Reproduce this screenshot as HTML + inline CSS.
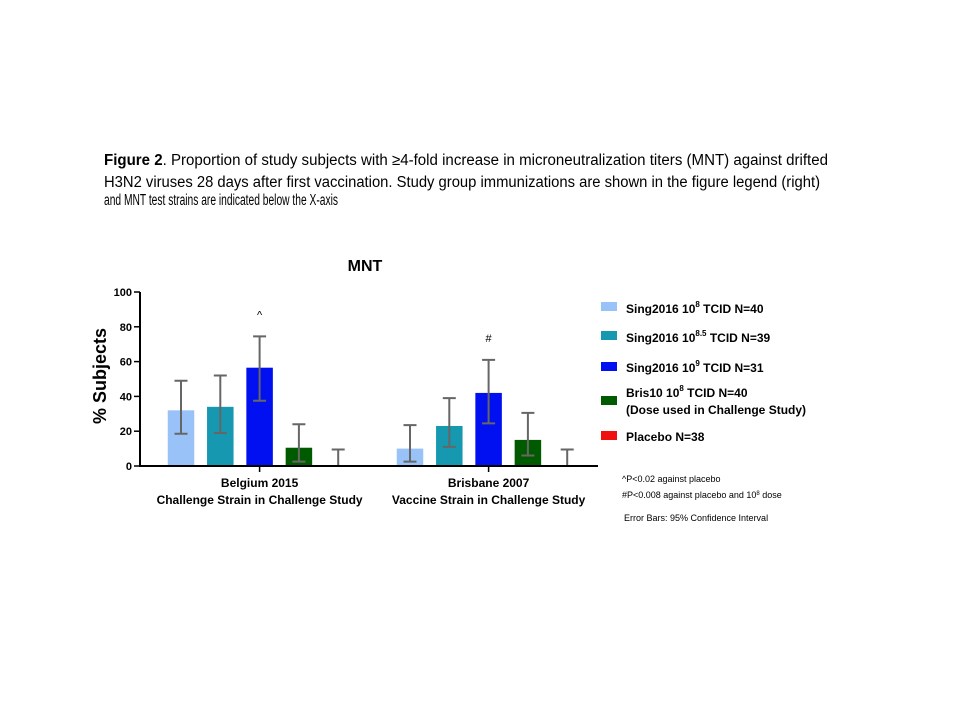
<!DOCTYPE html>
<html><head><meta charset="utf-8"><style>
html,body{margin:0;padding:0;background:#fff;}
svg{display:block;font-family:"Liberation Sans",sans-serif;}
</style></head><body>
<svg id="chart" width="960" height="720" viewBox="0 0 960 720">
<g font-size="15.5" fill="#000">
<text x="104" y="165" textLength="724" lengthAdjust="spacingAndGlyphs"><tspan font-weight="bold">Figure 2</tspan>. Proportion  of study subjects with ≥4-fold increase in microneutralization titers (MNT) against drifted</text>
<text x="104" y="187" textLength="716" lengthAdjust="spacingAndGlyphs">H3N2 viruses 28 days after first vaccination.  Study group immunizations are shown in the figure legend (right)</text>
<text x="104" y="205" textLength="234" lengthAdjust="spacingAndGlyphs">and MNT test strains are indicated below the X-axis</text>
</g>
<text x="365" y="271" font-size="16" font-weight="bold" text-anchor="middle">MNT</text>
<text transform="translate(106,376) rotate(-90)" font-size="18" font-weight="bold" text-anchor="middle">% Subjects</text>
<g id="plot"></g>
<g font-size="12" font-weight="bold">
<rect x="601" y="302" width="16" height="9" fill="#99c3f8"/>
<text x="626" y="313">Sing2016 10<tspan font-size="8" dy="-6">8</tspan><tspan dy="6"> TCID N=40</tspan></text>
<rect x="601" y="331" width="16" height="9" fill="#1598b0"/>
<text x="626" y="342">Sing2016 10<tspan font-size="8" dy="-6">8.5</tspan><tspan dy="6"> TCID N=39</tspan></text>
<rect x="601" y="362" width="16" height="9" fill="#0010f0"/>
<text x="626" y="372">Sing2016 10<tspan font-size="8" dy="-6">9</tspan><tspan dy="6"> TCID N=31</tspan></text>
<rect x="601" y="396" width="16" height="9" fill="#005a00"/>
<text x="626" y="397">Bris10 10<tspan font-size="8" dy="-6">8</tspan><tspan dy="6"> TCID N=40</tspan></text>
<text x="626" y="414">(Dose used in Challenge Study)</text>
<rect x="601" y="431" width="16" height="9" fill="#f01010"/>
<text x="626" y="441">Placebo N=38</text>
</g>
<g font-size="9" fill="#000">
<text x="622" y="482">^P&lt;0.02 against placebo</text>
<text x="622" y="498">#P&lt;0.008 against placebo and 10<tspan font-size="6" dy="-3">8</tspan><tspan dy="3"> dose</tspan></text>
<text x="624" y="521">Error Bars: 95% Confidence Interval</text>
</g>
</svg>
<script>
const groups = ["Belgium 2015", "Brisbane 2007"];
const subLabels = ["Challenge Strain in Challenge Study", "Vaccine Strain in Challenge Study"];
const series = ["sing-1e8", "sing-1e85", "sing-1e9", "bris10", "placebo"];
const colors = ["#99c3f8", "#1598b0", "#0010f0", "#005a00", "#f01010"];
const valuesBelgium = [32, 34, 56.5, 10.5, 0];
const lowBelgium = [18.5, 19, 37.5, 2.5, 0];
const highBelgium = [49, 52, 74.5, 24, 9.5];
const valuesBrisbane = [10, 23, 42, 15, 0];
const lowBrisbane = [2.5, 11, 24.5, 6, 0];
const highBrisbane = [23.5, 39, 61, 30.5, 9.5];
const markers = [["", "", "^", "", ""], ["", "", "#", "", ""]];
const yTicks = [0, 20, 40, 60, 80, 100];

const NS = "http://www.w3.org/2000/svg";
const plot = document.getElementById("plot");
const Y0 = 466, Y1 = 292, AX = 140;
const y = v => Y0 - (v / 100) * (Y0 - Y1);
const groupStart = [181, 410];
const step = 39.3, bw = 26.5;
const x = (g, i) => groupStart[g] + i * step;
function mk(tag, attrs, parent) {
  const e = document.createElementNS(NS, tag);
  for (const k in attrs) e.setAttribute(k, attrs[k]);
  (parent || plot).appendChild(e);
  return e;
}
const vals = [valuesBelgium, valuesBrisbane], lows = [lowBelgium, lowBrisbane], highs = [highBelgium, highBrisbane];
for (let g = 0; g < groups.length; g++) {
  for (let i = 0; i < series.length; i++) {
    const cx = x(g, i), v = vals[g][i];
    const r = mk("rect", {x: cx - bw / 2, y: y(v), width: bw, height: Y0 - y(v), fill: colors[i]});
    
    
    const eb = mk("path", {d: `M${cx},${y(lows[g][i])}V${y(highs[g][i])}M${cx-6.5},${y(highs[g][i])}H${cx+6.5}M${cx-6.5},${y(lows[g][i])}H${cx+6.5}`, stroke: "#666", "stroke-width": 2, fill: "none"});
    
    
    if (markers[g][i]) {
      const t = mk("text", {x: cx, y: y(highs[g][i]) - 18, "font-size": 11, "text-anchor": "middle"});
      t.textContent = markers[g][i];
      
      
    }
  }
  const gc = x(g, 2);
  const tk = mk("line", {x1: gc, x2: gc, y1: Y0, y2: Y0 + 6, stroke: "#000", "stroke-width": 1.5});
  
  
  const l1 = mk("text", {x: gc, y: Y0 + 21, "font-size": 12, "font-weight": "bold", "text-anchor": "middle"});
  l1.textContent = groups[g];
  
  
  const l2 = mk("text", {x: gc, y: Y0 + 38, "font-size": 12, "font-weight": "bold", "text-anchor": "middle"});
  l2.textContent = subLabels[g];
  
  
}
const ya = mk("line", {x1: AX, x2: AX, y1: Y1, y2: Y0 + 1, stroke: "#000", "stroke-width": 2});


const xa = mk("line", {x1: AX - 1, x2: 598, y1: Y0, y2: Y0, stroke: "#000", "stroke-width": 2});


yTicks.forEach(t => {
  const l = mk("line", {x1: AX - 6, x2: AX, y1: y(t), y2: y(t), stroke: "#000", "stroke-width": 1.5});
  
  
  const tx = mk("text", {x: AX - 8, y: y(t) + 4, "font-size": 11, "font-weight": "bold", "text-anchor": "end"});
  tx.textContent = t;
  
  
});
</script>
</body></html>
